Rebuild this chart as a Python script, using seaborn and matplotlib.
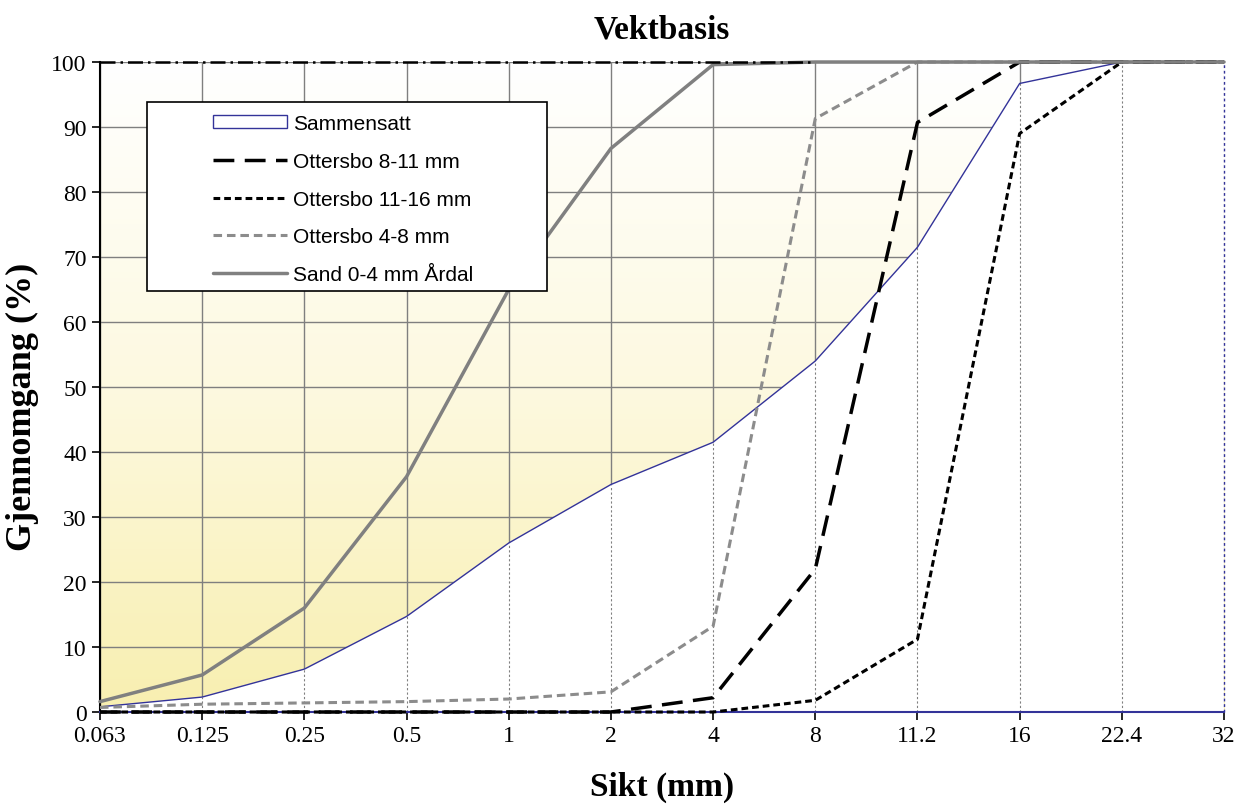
import numpy as np
import pandas as pd
import matplotlib
matplotlib.use('Agg')
import matplotlib.pyplot as plt
from matplotlib.colors import LinearSegmentedColormap
from matplotlib.lines import Line2D
from matplotlib.patches import Patch, Rectangle
import seaborn as sns

# sieve sizes (categorical x axis)
sieves = ['0.063', '0.125', '0.25', '0.5', '1', '2', '4', '8', '11.2', '16', '22.4', '32']
sammensatt = [0.8, 2.3, 6.6, 14.7, 26.0, 35.0, 41.5, 54.0, 71.5, 96.7, 100, 100]
ottersbo_8_11 = [0, 0, 0, 0, 0, 0, 2.2, 22.0, 90.7, 100, 100, 100]
ottersbo_11_16 = [0, 0, 0, 0, 0, 0, 0, 1.8, 11.2, 89.0, 100, 100]
ottersbo_4_8 = [0.7, 1.2, 1.4, 1.6, 2.0, 3.1, 13.2, 91.3, 100, 100, 100, 100]
sand_0_4 = [1.6, 5.7, 16.0, 36.2, 65.0, 86.7, 99.6, 100, 100, 100, 100, 100]
top_ref = [100, 100, 100, 100, 100, 100, 100, 100]  # dash-dot line along the top

yticks = list(range(0, 101, 10))

df = pd.DataFrame({'pos': np.arange(len(sieves)),
                   'Sammensatt': sammensatt,
                   'Ottersbo 8-11 mm': ottersbo_8_11,
                   'Ottersbo 11-16 mm': ottersbo_11_16,
                   'Ottersbo 4-8 mm': ottersbo_4_8,
                   'Sand 0-4 mm Årdal': sand_0_4})

sns.set_theme(style='white')
plt.rcParams['font.family'] = ['Liberation Serif', 'DejaVu Serif']
plt.rcParams['text.color'] = 'black'
plt.rcParams['axes.labelcolor'] = 'black'

fig = plt.figure(figsize=(12.48, 8.12), dpi=100)
ax = fig.add_axes([0.0801, 0.1219, 0.9007, 0.8005])

# yellow -> white background gradient
cmap = LinearSegmentedColormap.from_list('bg', ['#f8efb0', '#fdf9e0', '#ffffff'])
grad = np.linspace(0, 1, 256).reshape(-1, 1)
ax.imshow(grad, extent=[0, 1, 0, 1], transform=ax.transAxes, origin='lower',
          cmap=cmap, aspect='auto', zorder=0)

n = len(sieves)
ax.set_xlim(0, n - 1)
ax.set_ylim(0, 100)
ax.set_xticks(df['pos'])
ax.set_xticklabels(sieves)
ax.set_yticks(yticks)

# grid
ax.grid(True, color='#7f7f7f', lw=1.0, zorder=1)
ax.set_axisbelow(True)

# Sammensatt as a white area with navy edge
ax.fill_between(df['pos'], 0, df['Sammensatt'], facecolor='white',
                edgecolor='none', zorder=1.5, clip_on=False)
ax.vlines(df['pos'], 0, df['Sammensatt'], colors='#808080', linestyles=(0, (2, 2)),
          lw=0.8, zorder=1.6)
ax.vlines(df['pos'].iloc[-1], 0, 100, colors='#333399', linestyles=(0, (2, 2)),
          lw=1.0, zorder=1.7, clip_on=False)
sns.lineplot(data=df, x='pos', y='Sammensatt', color='#333399', lw=1.0, ax=ax, zorder=2)

sns.lineplot(data=df, x='pos', y='Ottersbo 4-8 mm', color='#8c8c8c', lw=2.2,
             dashes=(2.8, 1.6), ax=ax, zorder=3, clip_on=False)
sns.lineplot(data=df, x='pos', y='Ottersbo 8-11 mm', color='black', lw=2.5,
             dashes=(6, 3), ax=ax, zorder=3.2, clip_on=False)
sns.lineplot(data=df, x='pos', y='Ottersbo 11-16 mm', color='black', lw=2.2,
             dashes=(2.2, 1.3), ax=ax, zorder=3.1, clip_on=False)
sns.lineplot(data=df, x='pos', y='Sand 0-4 mm Årdal', color='#808080', lw=2.5,
             ax=ax, zorder=3.5, clip_on=False)
ax.plot(df['pos'].iloc[:len(top_ref)], top_ref, color='black', lw=1.8,
        dashes=(6, 2, 1, 2), zorder=3.6, clip_on=False)

# spines
for s in ['top', 'right']:
    ax.spines[s].set_visible(False)
ax.spines['left'].set_color('black')
ax.spines['left'].set_linewidth(1.5)
ax.spines['bottom'].set_color('#333399')
ax.spines['bottom'].set_linewidth(1.5)
ax.tick_params(axis='both', direction='out', length=6, width=1.2, colors='black',
               labelsize=17, bottom=True, left=True)

ax.set_title('Vektbasis', fontsize=24, fontweight='bold', pad=18)
ax.set_xlabel('Sikt (mm)', fontsize=24, fontweight='bold', labelpad=18)
ax.set_ylabel('Gjennomgang (%)', fontsize=26, fontweight='bold')
ax.yaxis.set_label_coords(-0.054, 0.471)

# legend box
ax.add_patch(Rectangle((0.0418, 0.648), 0.356, 0.29, transform=ax.transAxes,
                       facecolor='white', edgecolor='black', lw=1.2, zorder=4.5))
handles = [Patch(facecolor='white', edgecolor='#333399', lw=1.0),
           Line2D([], [], color='black', lw=2.5, dashes=(6, 3)),
           Line2D([], [], color='black', lw=2.2, dashes=(2.2, 1.3)),
           Line2D([], [], color='#8c8c8c', lw=2.2, dashes=(2.8, 1.6)),
           Line2D([], [], color='#808080', lw=2.5)]
labels = ['Sammensatt', 'Ottersbo 8-11 mm', 'Ottersbo 11-16 mm', 'Ottersbo 4-8 mm',
          'Sand 0-4 mm Årdal']
leg = ax.legend(handles, labels, loc='upper left', bbox_to_anchor=(0.1005, 0.92),
                frameon=False, borderpad=0, borderaxespad=0, handlelength=3.55,
                handleheight=0.6, handletextpad=0.3, labelspacing=0.9,
                prop={'family': 'Liberation Sans', 'size': 15})
leg.set_zorder(5)

fig.savefig('out.png', dpi=100)
